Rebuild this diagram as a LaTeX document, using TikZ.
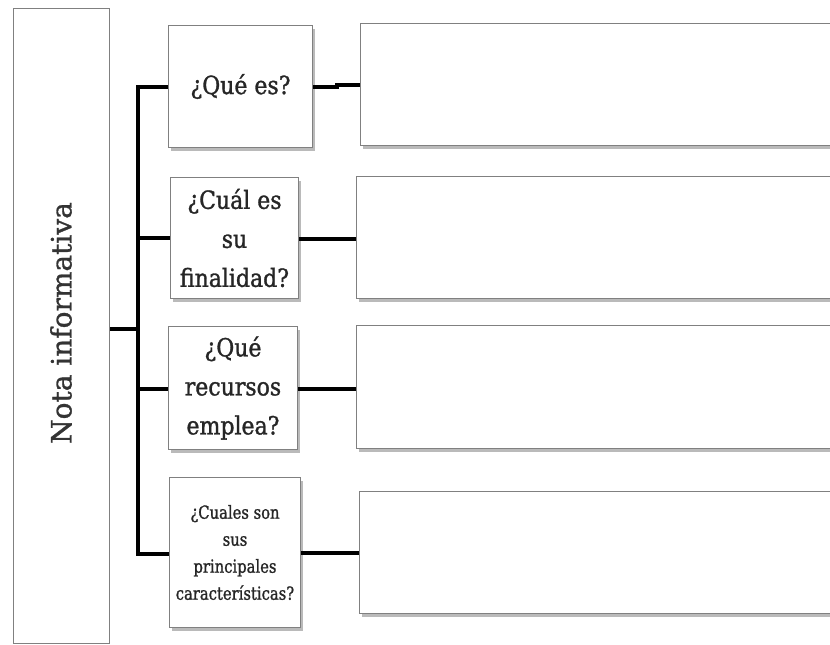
\documentclass[tikz,border=0pt]{standalone}
\usepackage{fontspec}
\setmainfont{DejaVu Serif}
\newfontfamily\qfont[FakeStretch=0.88,FakeBold=1.2]{DejaVu Serif}
\newfontfamily\qsfont[FakeStretch=0.82,FakeBold=1.2]{DejaVu Serif}
\newfontfamily\mfont[FakeBold=1.0]{DejaVu Serif}
\usetikzlibrary{shadows}
\begin{document}
\begin{tikzpicture}[x=1pt,y=-1pt,
  box/.style={draw=black!50,line width=1pt,fill=white,rectangle,anchor=north west,inner sep=1pt,
    drop shadow={shadow xshift=2pt,shadow yshift=-3pt,fill=black!45,opacity=0.6}},
  qtext/.style={font=\qfont\fontsize{25}{39}\selectfont,text=black!85,align=center},
  qsmall/.style={font=\qsfont\fontsize{18}{27}\selectfont,text=black!85,align=center},
  conn/.style={line width=4.3pt,black}]
\useasboundingbox (0,0) rectangle (830,645);
\clip (0,0) rectangle (830,645);
\fill[white] (0,0) rectangle (830,645);
% main box
\node[draw=black!50,line width=1pt,anchor=north west,minimum width=96pt,minimum height=635pt,inner sep=0pt] (main) at (13,8) {};
\node[rotate=90,font=\mfont\fontsize{28}{30}\selectfont,text=black!80] (mainlbl) at (61,323) {Nota informativa};
% question boxes
\node[box,minimum width=144pt,minimum height=122pt,qtext] (q1) at (168,25) {¿Qué es?};
\node[box,minimum width=128pt,minimum height=121pt,qtext] (q2) at (170,177) {¿Cuál es\\su\\finalidad?};
\node[box,minimum width=129pt,minimum height=123pt,qtext] (q3) at (168,326) {¿Qué\\recursos\\emplea?};
\node[box,minimum width=131pt,minimum height=150pt,qsmall] (q4) at (169,477) {¿Cuales son\\sus\\principales\\características?};
% answer boxes
\node[box,minimum width=560pt,minimum height=122pt] (a1) at (360,23) {};
\node[box,minimum width=560pt,minimum height=122pt] (a2) at (356,176) {};
\node[box,minimum width=560pt,minimum height=123pt] (a3) at (356,325) {};
\node[box,minimum width=560pt,minimum height=122pt] (a4) at (359,491) {};
% spine
\coordinate (sp) at (138,0);
\draw[conn] (main.east |- 0,329) -- (sp |- 0,329);
\draw[conn,line cap=rect] (sp |- 0,87) -- (sp |- 0,554);
\draw[conn] (sp |- 0,87) -- (q1.west |- 0,87);
\draw[conn] (sp |- q2.west) -- (q2.west);
\draw[conn] (sp |- 0,389) -- (q3.west |- 0,389);
\draw[conn] (sp |- 0,554) -- (q4.west |- 0,554);
% question to answer connectors
\coordinate (st) at (337,0);
\draw[conn] (q1.east |- 0,87) -- (st |- 0,87) -- (st |- 0,85) -- (a1.west |- 0,85);
\draw[conn] (q2.east |- 0,239) -- (a2.west |- 0,239);
\draw[conn] (q3.east |- 0,389) -- (a3.west |- 0,389);
\draw[conn] (q4.east |- 0,553) -- (a4.west |- 0,553);
\end{tikzpicture}
\end{document}
